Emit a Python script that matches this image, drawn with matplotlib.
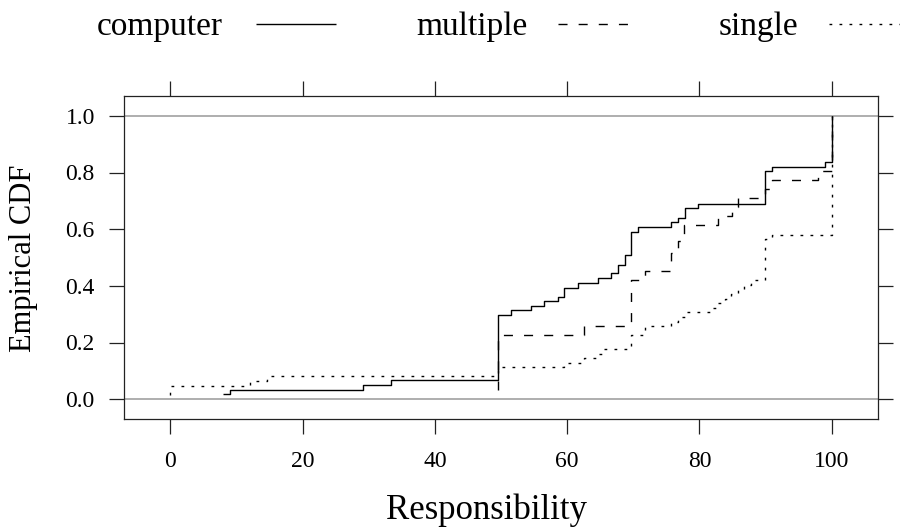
import matplotlib
matplotlib.use("Agg")
import matplotlib.pyplot as plt
from matplotlib.lines import Line2D

plt.rcParams['font.family'] = ['Liberation Serif', 'DejaVu Serif']

# ECDF step points (x = Responsibility, y = cumulative proportion)
computer_x = [8.0, 9.1, 29.2, 33.3, 49.5, 51.5, 54.5, 56.5, 58.6, 59.5, 61.6, 64.6, 66.7,
              67.7, 68.7, 69.7, 70.7, 75.7, 76.7, 77.8, 79.8, 89.9, 90.9, 99.0, 100.0]
computer_y = [0.018, 0.034, 0.050, 0.066, 0.297, 0.313, 0.329, 0.346, 0.362, 0.394, 0.411, 0.428, 0.444,
              0.475, 0.508, 0.591, 0.606, 0.624, 0.640, 0.673, 0.690, 0.804, 0.820, 0.838, 1.0]

multiple_x = [49.5, 49.5, 62.6, 69.7, 71.7, 75.7, 76.7, 77.7, 82.8, 84.9, 85.8, 89.9, 90.9, 98.0, 100.0]
multiple_y = [0.032, 0.226, 0.258, 0.419, 0.452, 0.516, 0.560, 0.613, 0.645, 0.677, 0.710, 0.742, 0.774, 0.806, 1.0]

single_x = [0.0, 0.0, 12.1, 14.6, 49.5, 59.5, 62.6, 64.4, 65.4, 69.7, 71.7, 75.7, 76.7, 77.8,
            81.8, 82.8, 83.8, 84.8, 85.8, 86.8, 87.8, 89.9, 90.9, 100.0]
single_y = [0.016, 0.048, 0.065, 0.081, 0.113, 0.129, 0.145, 0.161, 0.177, 0.226, 0.258, 0.274, 0.290, 0.306,
            0.323, 0.339, 0.355, 0.371, 0.387, 0.403, 0.419, 0.565, 0.581, 1.0]

series_names = ["computer", "multiple", "single"]
x_ticks = [0, 20, 40, 60, 80, 100]
y_ticks = [0.0, 0.2, 0.4, 0.6, 0.8, 1.0]
y_tick_labels = ["0.0", "0.2", "0.4", "0.6", "0.8", "1.0"]

W, H = 900, 529
fig = plt.figure(figsize=(W / 100, H / 100), dpi=100)
ax = fig.add_axes([124 / W, 1 - 419 / H, (878 - 124) / W, (419 - 96) / H])

ref_col = '#a8a8a8'
ax.axhline(0, color=ref_col, lw=1.3, zorder=1)
ax.axhline(1, color=ref_col, lw=1.3, zorder=1)

styles = {
    "computer": (0, ()),
    "multiple": (0, (6.5, 8)),
    "single": (0, (2.0, 5.2)),
}
data = {
    "computer": (computer_x, computer_y),
    "multiple": (multiple_x, multiple_y),
    "single": (single_x, single_y),
}
for name in series_names:
    xs, ys = data[name]
    ax.step(xs, ys, where='post', color='black', lw=1.0, linestyle=styles[name], zorder=3)

ax.set_xlim(-7, 107)
ax.set_ylim(-0.07, 1.07)
ax.set_xticks(x_ticks)
ax.set_xticklabels([str(t) for t in x_ticks])
ax.set_yticks(y_ticks)
ax.set_yticklabels(y_tick_labels)
ax.tick_params(direction='out', length=11, width=0.9, color='#222222',
               top=True, right=True, labeltop=False, labelright=False,
               labelsize=17)
ax.tick_params(axis='y', pad=10)
ax.tick_params(axis='x', pad=12)
for s in ax.spines.values():
    s.set_linewidth(0.9)
    s.set_color('#222222')

fig.text(486 / W, 1 - 510 / H, "Responsibility", ha='center', va='center', fontsize=25)
fig.text(24 / W, 1 - 258 / H, "Empirical CDF", ha='center', va='center', rotation=90, fontsize=22)

# Legend across the top
leg_text_x = [97, 416, 719]
leg_line_x = [(256, 336), (558, 633), (829, 905)]
base_y = 1 - 35 / H
line_y = 1 - 24 / H
for name, tx, (l0, l1) in zip(series_names, leg_text_x, leg_line_x):
    fig.text(tx / W, base_y, name, ha='left', va='baseline', fontsize=24)
    fig.add_artist(Line2D([l0 / W, l1 / W], [line_y, line_y], color='black', lw=1.0,
                          linestyle=styles[name], transform=fig.transFigure))

fig.savefig("out.png", dpi=100)
